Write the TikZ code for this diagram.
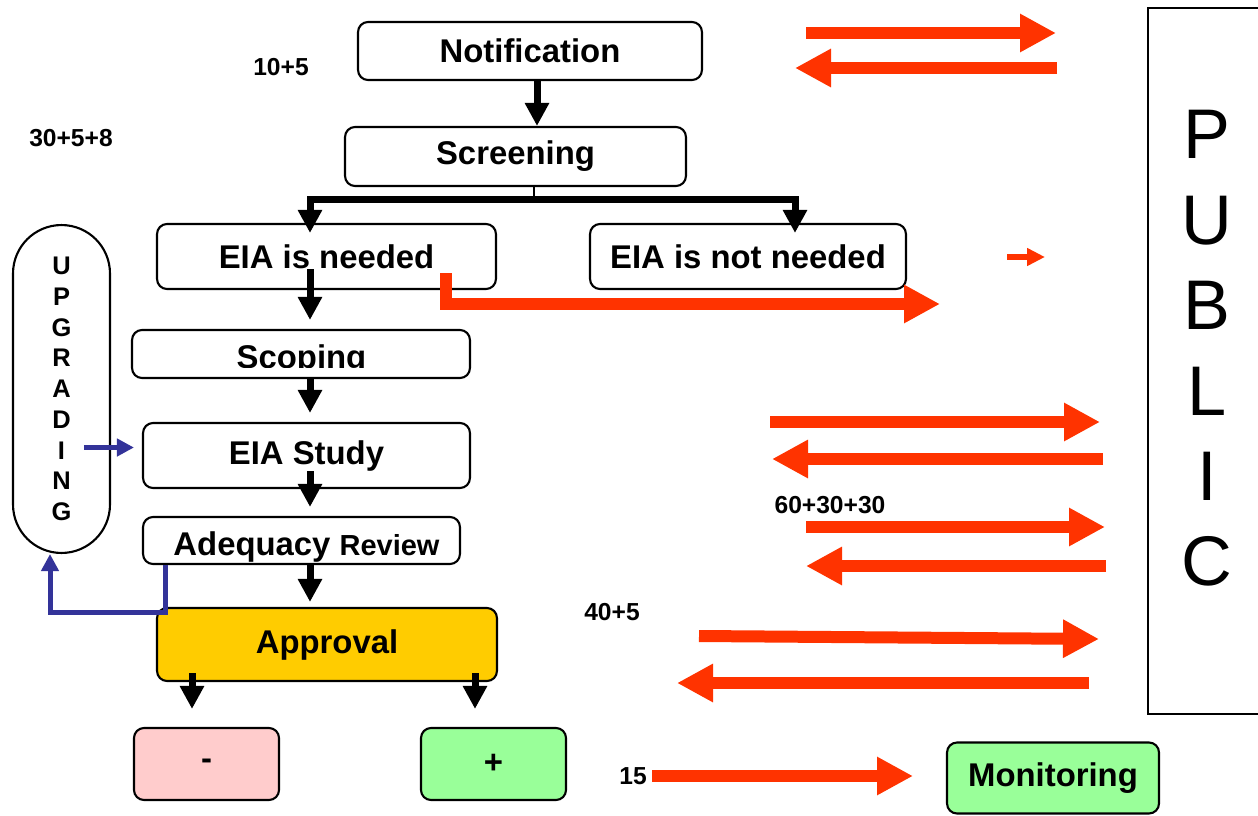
\documentclass[tikz,border=0pt]{standalone}
\usepackage{fontspec}
\setmainfont{Liberation Sans}
\usetikzlibrary{arrows.meta, calc}
\definecolor{pubred}{RGB}{255, 51, 0}
\definecolor{approvegold}{RGB}{255, 204, 0}
\definecolor{rejectpink}{RGB}{255, 204, 204}
\definecolor{okgreen}{RGB}{153, 255, 153}
\definecolor{loopblue}{RGB}{51, 51, 153}

\begin{document}
\begin{tikzpicture}[x=0.02cm, y=-0.02cm,
  box/.style={draw, line width=1.2pt, rounded corners=0.2cm, inner sep=0pt,
              font=\bfseries\fontsize{18.7}{22}\selectfont},
  flow/.style={line width=0.14cm, -{Triangle[length=0.46cm, width=0.46cm]}},
  pub/.style={pubred, line width=0.24cm, -{Triangle[length=0.72cm, width=0.72cm]}},
  back/.style={loopblue, line width=0.1cm, -{Triangle[length=0.34cm, width=0.34cm]}},
  days/.style={font=\bfseries\fontsize{14}{16}\selectfont}]
  \useasboundingbox (0,0) rectangle (1258,815);

  % main chain
  \node[box, minimum width=6.88cm, minimum height=1.16cm] (notif) at (530,51) {Notification};
  \node[box, minimum width=6.82cm, minimum height=1.18cm] (screen) at (515.5,156.5) {Screening};
  \node[box, minimum width=6.78cm, minimum height=1.3cm] (needed) at (326.5,256.5) {EIA is needed};
  \node[box, minimum width=6.32cm, minimum height=1.3cm] (notneeded) at (748,256.5) {EIA is not needed};
  \node[box, minimum width=6.76cm, minimum height=0.96cm] (scoping) at (301,354) {};
  \begin{scope}
    \clip (132,330) rectangle (470,367);
    \node[font=\bfseries\fontsize{18.7}{22}\selectfont, anchor=base] (scopetxt) at (301.5,368) {Scoping};
  \end{scope}
  \node[box, minimum width=6.54cm, minimum height=1.3cm] (study) at (306.5,455.5) {EIA Study};
  \node[box, minimum width=6.34cm, minimum height=0.94cm] (adeq) at (301.5,540.5) {};
  \node[font=\bfseries\fontsize{18.7}{22}\selectfont, anchor=base] (adeqtxt) at (306.5,555)
    {Adequacy {\fontsize{16.5}{20}\selectfont Review}};
  \node[box, fill=approvegold, minimum width=6.8cm, minimum height=1.46cm] (approval) at (327,644.5) {Approval};
  \node[box, fill=rejectpink, minimum width=2.9cm, minimum height=1.44cm] (minus) at (206.5,764) {-};
  \node[box, fill=okgreen, minimum width=2.9cm, minimum height=1.44cm] (plus) at (493.5,764) {+};
  \node[box, fill=okgreen, minimum width=4.24cm, minimum height=1.42cm] (monitor) at (1053,778) {Monitoring};

  % side boxes
  \node[draw, line width=1.2pt, rounded corners=0.97cm, minimum width=1.94cm, minimum height=6.56cm,
        align=center, font=\bfseries\fontsize{14.5}{17.5}\selectfont] (upg) at (61.5,389)
    {U\\P\\G\\R\\A\\D\\I\\N\\G};
  \node[draw, line width=1.2pt, minimum width=2.5cm, minimum height=14.12cm] (public) at (1210.5,361) {};
  \node[align=center, font=\fontsize{40}{48.6}\selectfont] (publictxt) at (1207,348.5)
    {P\\U\\B\\L\\I\\C};

  % day counts
  \node[days] (d1) at (281,67) {10+5};
  \node[days] (d2) at (71,138) {30+5+8};
  \node[days] (d3) at (830,505) {60+30+30};
  \node[days] (d4) at (612,612) {40+5};
  \node[days] (d5) at (633,776) {15};

  % black arrows
  \coordinate (topspine) at (537,0);
  \coordinate (split) at (534,199);
  \coordinate (spine) at (310,0);
  \draw[flow] (notif.south -| topspine) -- (screen.north -| topspine);
  \draw[line width=0.6pt] (screen.south -| split) -- (split);
  \draw[flow] (split) -| ($(needed.north -| spine)+(0,10)$);
  \draw[flow] (split) -| ($(notneeded.north)+(47,10)$);
  \draw[flow] ($(needed.south -| spine)+(0,-21)$) -- ($(scoping.north -| spine)+(0,-9)$);
  \draw[flow] (scoping.south -| spine) -- ($(study.north -| spine)+(0,-9)$);
  \draw[flow] ($(study.south -| spine)+(0,-18)$) -- ($(adeq.north -| spine)+(0,-9)$);
  \draw[flow] (adeq.south -| spine) -- ($(approval.north -| spine)+(0,-5)$);
  \draw[flow] ($(approval.south)+(-135,-9)$) -- ($(minus.north)+(-14.5,-18)$);
  \draw[flow] ($(approval.south)+(148,-9)$) -- ($(plus.north)+(-18.5,-18)$);

  % upgrading loop
  \draw[back] ($(adeq.south west)+(24,0)$) -- ++(0,47) -| ($(upg.south)+(-11.5,0)$);
  \draw[back] ($(study.west)+(-58,-8)$) -- ($(study.west)+(-8,-8)$);

  % public consultation
  \coordinate (p1a) at (806,33);   \coordinate (p1b) at (1056,33);
  \coordinate (p2a) at (1057,68);  \coordinate (p2b) at (795,68);
  \coordinate (p3a) at (1007,257); \coordinate (p3b) at (1045,257);
  \coordinate (p4a) at (445.5,273); \coordinate (p4b) at (940,304);
  \coordinate (p5a) at (770,422);  \coordinate (p5b) at (1100,422);
  \coordinate (p6a) at (1103,459); \coordinate (p6b) at (772,459);
  \coordinate (p7a) at (806,527);  \coordinate (p7b) at (1105,527);
  \coordinate (p8a) at (1106,566); \coordinate (p8b) at (806,566);
  \coordinate (p9a) at (699,636);  \coordinate (p9b) at (1099,639);
  \coordinate (p10a) at (1089,683); \coordinate (p10b) at (677,683);
  \coordinate (p11a) at (652,776); \coordinate (p11b) at (913,776);
  \draw[pub] (p1a) -- (p1b);
  \draw[pub] (p2a) -- (p2b);
  \draw[pubred, line width=0.12cm, -{Triangle[length=0.36cm, width=0.34cm]}] (p3a) -- (p3b);
  \draw[pub] (p4a) |- (p4b);
  \draw[pub] (p5a) -- (p5b);
  \draw[pub] (p6a) -- (p6b);
  \draw[pub] (p7a) -- (p7b);
  \draw[pub] (p8a) -- (p8b);
  \draw[pub] (p9a) -- (p9b);
  \draw[pub] (p10a) -- (p10b);
  \draw[pub] (p11a) -- (p11b);
\end{tikzpicture}
\end{document}
